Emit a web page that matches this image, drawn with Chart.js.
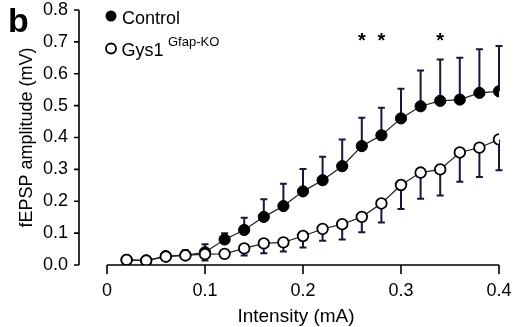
<!DOCTYPE html>
<html>
<head>
<meta charset="utf-8">
<script src="https://cdn.jsdelivr.net/npm/chart.js@4"></script>
<style>
html,body{margin:0;padding:0;background:#fff;}
#wrap{position:relative;width:514px;height:327px;}
</style>
</head>
<body>
<div id="wrap"><canvas id="c" width="514" height="327"></canvas></div>
<script>
// ---- data ----
const intensity = [0.02,0.04,0.06,0.08,0.10,0.12,0.14,0.16,0.18,0.20,0.22,0.24,0.26,0.28,0.30,0.32,0.34,0.36,0.38,0.40];
const controlMean = [0.016,0.014,0.028,0.031,0.040,0.080,0.110,0.151,0.185,0.231,0.266,0.310,0.373,0.407,0.460,0.498,0.515,0.519,0.540,0.545];
const controlErr  = [0.004,0.006,0.008,0.015,0.025,0.020,0.038,0.055,0.070,0.070,0.074,0.084,0.089,0.086,0.093,0.112,0.130,0.131,0.137,0.142];
const gysMean = [0.016,0.014,0.026,0.030,0.034,0.035,0.052,0.068,0.071,0.091,0.113,0.128,0.151,0.193,0.251,0.290,0.300,0.353,0.368,0.394];
const gysErr  = [0.004,0.005,0.006,0.008,0.020,0.008,0.022,0.031,0.029,0.036,0.037,0.048,0.048,0.060,0.075,0.082,0.082,0.092,0.092,0.097];
const significantAt = [0.26, 0.28, 0.34];
const xTickLabels = ['0','0.1','0.2','0.3','0.4'];
const yTickLabels = ['0.0','0.1','0.2','0.3','0.4','0.5','0.6','0.7','0.8'];
const seriesNames = ['Control', 'Gys1'];
const gysSuperscript = 'Gfap-KO';
const panelLetter = 'b';
const xTitle = 'Intensity (mA)';
const yTitle = 'fEPSP amplitude (mV)';

const FONT = '"Liberation Sans", Arial, Helvetica, sans-serif';
Chart.defaults.font.family = FONT;
Chart.defaults.color = '#000';

const errColor = '#17173a';

const decorPlugin = {
  id: 'decor',
  beforeDatasetsDraw(chart) {
    const ctx = chart.ctx, xs = chart.scales.x, ys = chart.scales.y;
    const sets = [
      {mean: controlMean, err: controlErr, dir: 1},
      {mean: gysMean, err: gysErr, dir: -1}
    ];
    ctx.save();
    ctx.strokeStyle = errColor;
    ctx.lineWidth = 2;
    sets.forEach(s => {
      intensity.forEach((xv, i) => {
        const px = xs.getPixelForValue(xv);
        const y0 = ys.getPixelForValue(s.mean[i]);
        const y1 = ys.getPixelForValue(s.mean[i] + s.dir * s.err[i]);
        ctx.beginPath();
        ctx.moveTo(px, y0); ctx.lineTo(px, y1);
        ctx.moveTo(px - 3.5, y1); ctx.lineTo(px + 3.5, y1);
        ctx.stroke();
      });
    });
    ctx.restore();
  },
  afterDraw(chart) {
    const ctx = chart.ctx, xs = chart.scales.x, ys = chart.scales.y;
    const ca = chart.chartArea;
    ctx.save();
    ctx.strokeStyle = '#000';
    ctx.lineWidth = 1.6;
    // y axis (detached)
    const ax = ca.left - 28;
    ctx.beginPath();
    ctx.moveTo(ax, ys.getPixelForValue(0.8));
    ctx.lineTo(ax, ys.getPixelForValue(0));
    yTickLabels.forEach((t, i) => {
      const py = ys.getPixelForValue(i * 0.1);
      ctx.moveTo(ax, py); ctx.lineTo(ax - 5, py);
    });
    ctx.stroke();
    // x axis
    const ay = ys.getPixelForValue(0);
    ctx.beginPath();
    ctx.moveTo(xs.getPixelForValue(0), ay);
    ctx.lineTo(xs.getPixelForValue(0.4), ay);
    xTickLabels.forEach((t, i) => {
      const px = xs.getPixelForValue(i * 0.1);
      ctx.moveTo(px, ay); ctx.lineTo(px, ay + 9);
    });
    ctx.stroke();

    // x axis title
    ctx.fillStyle = '#000';
    ctx.font = '19px ' + FONT;
    ctx.textAlign = 'center';
    ctx.textBaseline = 'middle';
    ctx.fillText(xTitle, 296, 317);

    // asterisks
    ctx.font = 'bold 20px ' + FONT;
    ctx.textBaseline = 'alphabetic';
    significantAt.forEach(v => {
      ctx.fillText('*', xs.getPixelForValue(v), 47);
    });

    // panel letter
    ctx.textAlign = 'left';
    ctx.font = 'bold 34px ' + FONT;
    ctx.fillText(panelLetter, 8, 32);

    // legend
    ctx.beginPath();
    ctx.arc(111, 16, 5.5, 0, Math.PI * 2);
    ctx.fillStyle = '#000';
    ctx.fill();
    ctx.font = '18px ' + FONT;
    ctx.fillText(seriesNames[0], 122, 23.5);

    ctx.beginPath();
    ctx.arc(111, 48.5, 5, 0, Math.PI * 2);
    ctx.fillStyle = '#fff';
    ctx.fill();
    ctx.lineWidth = 1.8;
    ctx.strokeStyle = '#000';
    ctx.stroke();
    ctx.fillStyle = '#000';
    ctx.font = '18px ' + FONT;
    ctx.fillText(seriesNames[1], 121.5, 55.5);
    ctx.font = '13px ' + FONT;
    ctx.fillText(gysSuperscript, 168, 45.5);
    ctx.restore();
  }
};

new Chart(document.getElementById('c'), {
  type: 'line',
  data: {
    datasets: [
      {
        label: seriesNames[1],
        data: intensity.map((x, i) => ({x, y: gysMean[i]})),
        borderColor: '#222',
        borderWidth: 1.2,
        pointRadius: 5.3,
        pointBorderWidth: 1.8,
        pointBackgroundColor: '#fff',
        pointBorderColor: '#000',
        fill: false,
        order: 0
      },
      {
        label: seriesNames[0],
        data: intensity.map((x, i) => ({x, y: controlMean[i]})),
        borderColor: '#222',
        borderWidth: 1.2,
        pointRadius: 5.6,
        pointBorderWidth: 1,
        pointBackgroundColor: '#000',
        pointBorderColor: '#000',
        fill: false,
        order: 1
      }
    ]
  },
  options: {
    responsive: false,
    animation: false,
    devicePixelRatio: 1,
    layout: {padding: {left: 0, right: 15, top: 10, bottom: 0}},
    plugins: {legend: {display: false}, tooltip: {enabled: false}},
    scales: {
      x: {
        type: 'linear', min: 0, max: 0.4,
        grid: {display: false, drawTicks: false},
        border: {display: false},
        ticks: {
          stepSize: 0.1, padding: 15, color: '#000',
          font: {size: 18}, maxRotation: 0, autoSkip: false,
          callback: (v, i) => xTickLabels[i]
        },
        title: {display: false},
        afterFit: s => { s.height = 62; s.paddingLeft = 0; s.paddingRight = 0; }
      },
      y: {
        type: 'linear', min: 0, max: 0.8,
        grid: {display: false, drawTicks: false},
        border: {display: false},
        ticks: {
          stepSize: 0.1, padding: 39, color: '#000',
          font: {size: 18}, autoSkip: false,
          callback: (v, i) => yTickLabels[i]
        },
        title: {display: true, text: yTitle, color: '#000', font: {size: 18}, padding: {top: 16, bottom: 0}},
        afterFit: s => { s.width = 107; s.paddingTop = 0; s.paddingBottom = 0; }
      }
    }
  },
  plugins: [decorPlugin]
});
</script>
</body>
</html>
